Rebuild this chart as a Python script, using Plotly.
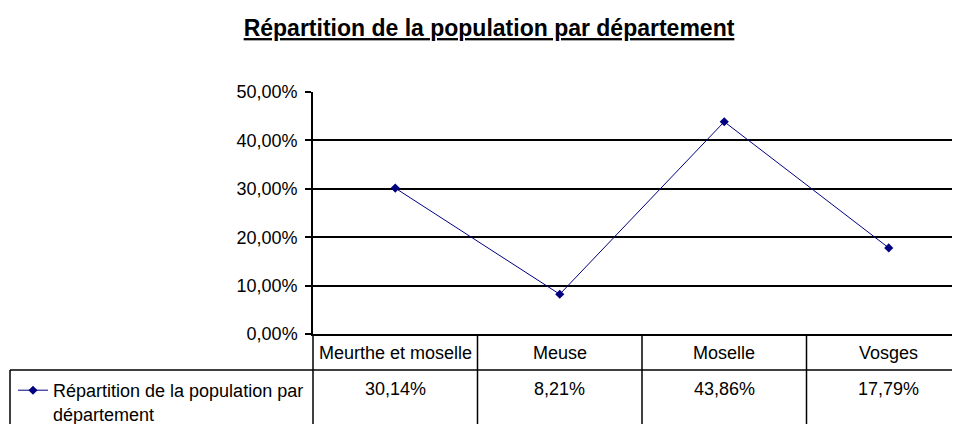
import plotly.graph_objects as go

# ---- data ----
categories = ["Meurthe et moselle", "Meuse", "Moselle", "Vosges"]
values = [0.3014, 0.0821, 0.4386, 0.1779]
legend_label = "Répartition de la population par<br>département"
title_text = "Répartition de la population par département"
y_ticks = [0, 0.1, 0.2, 0.3, 0.4, 0.5]

# the page body has an 8px default margin; size the figure to fill the rest
OFF = 8
W, H = 960 - OFF, 424 - OFF
ML, MT = 313 - OFF, 92 - OFF
MR = 0
MB = H - (334 - OFF)
plot_h = H - MT - MB
plot_w = W - ML - MR

def py(sy):  # screen pixel y -> paper y
    return (H - MB - (sy - OFF)) / plot_h

def px(sx):  # screen pixel x -> paper x
    return ((sx - OFF) - ML) / plot_w

FONT = "Liberation Sans, Arial, sans-serif"
navy = "#000080"
FS = 18

x_idx = list(range(len(categories)))
cat_w = 164.5  # px per category

fig = go.Figure()
fig.add_trace(go.Scatter(
    x=x_idx, y=values, mode="lines+markers", name=legend_label,
    line=dict(color=navy, width=1),
    marker=dict(symbol="diamond", size=7, color=navy),
    showlegend=True,
))

shapes = []
shapes.append(dict(type="line", xref="paper", yref="paper",
                   x0=px(10), x1=1.0, y0=py(370), y1=py(370),
                   line=dict(color="black", width=1.5)))
shapes.append(dict(type="line", xref="paper", yref="paper",
                   x0=px(10), x1=px(10), y0=py(370), y1=py(440),
                   line=dict(color="black", width=1.5)))
shapes.append(dict(type="line", xref="paper", yref="paper",
                   x0=0, x1=0, y0=0, y1=py(440),
                   line=dict(color="black", width=1.5)))
for i in range(1, len(categories)):
    shapes.append(dict(type="line", xref="x", yref="paper",
                       x0=i - 0.5, x1=i - 0.5, y0=0, y1=py(440),
                       line=dict(color="black", width=1.5)))

annotations = []
for i, (c, v) in enumerate(zip(categories, values)):
    annotations.append(dict(x=i, y=py(353), xref="x", yref="paper",
                            text=c, showarrow=False, xanchor="center", yanchor="middle",
                            font=dict(family=FONT, size=FS, color="black")))
    annotations.append(dict(x=i, y=py(389), xref="x", yref="paper",
                            text=f"{v*100:.2f}%".replace(".", ","), showarrow=False,
                            xanchor="center", yanchor="middle",
                            font=dict(family=FONT, size=FS, color="black")))

fig.update_layout(
    width=W, height=H,
    margin=dict(l=ML, r=MR, t=MT, b=MB, pad=0, autoexpand=False),
    paper_bgcolor="white", plot_bgcolor="white",
    separators=", ",
    title=dict(text=f"<b><u>{title_text}</u></b>", x=(489 - OFF) / W, xanchor="center",
               xref="container", yref="container", y=1 - (28 - OFF) / H, yanchor="middle",
               font=dict(family=FONT, size=23, color="black")),
    xaxis=dict(range=[-0.5, -0.5 + plot_w / cat_w], showgrid=False, zeroline=False,
               showticklabels=False, ticks="", showline=True, linecolor="black",
               linewidth=1.5, fixedrange=True),
    yaxis=dict(range=[0, 0.5], tickvals=y_ticks, tickformat=".2%",
               showgrid=True, gridcolor="black", gridwidth=1.5,
               showline=True, linecolor="black", linewidth=1.5,
               ticks="outside", ticklen=6, tickcolor="black", tickwidth=1.5,
               zeroline=False, ticklabelstandoff=4,
               tickfont=dict(family=FONT, size=FS, color="black")),
    showlegend=True,
    legend=dict(x=px(13), y=py(372), xanchor="left", yanchor="top",
                xref="paper", yref="paper", valign="top",
                bgcolor="rgba(0,0,0,0)", borderwidth=0,
                font=dict(family=FONT, size=FS, color="black")),
    shapes=shapes, annotations=annotations,
)

fig.write_html("out.html")
